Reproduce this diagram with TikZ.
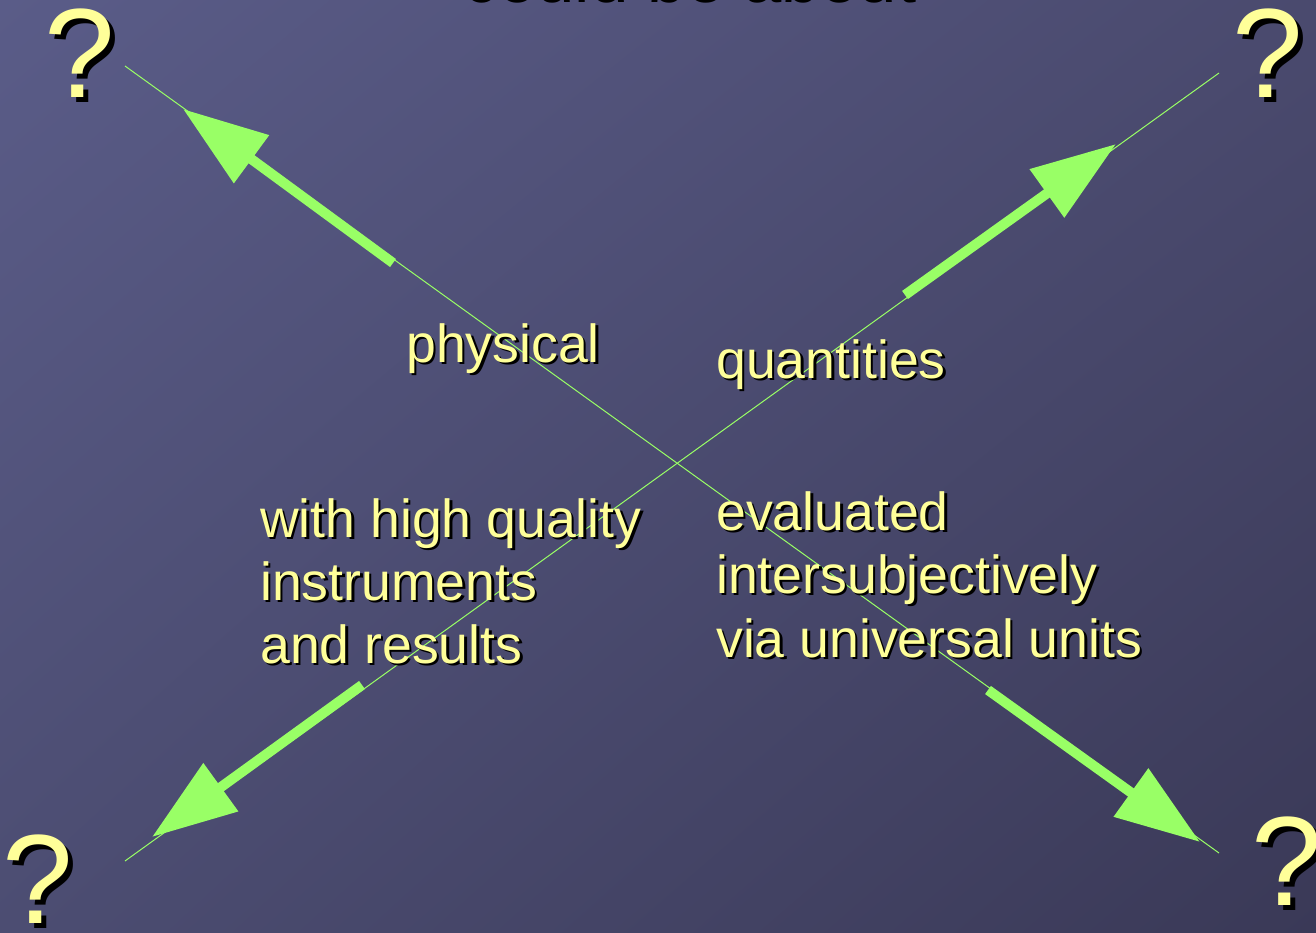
\documentclass[tikz,border=0pt]{standalone}
\usepackage{fontspec}
\setmainfont{Liberation Sans}
\usetikzlibrary{arrows.meta, calc, shadings}

\definecolor{qyellow}{HTML}{FFFF99}
\definecolor{qgreen}{HTML}{99FF66}
\definecolor{bgtl}{HTML}{5A5C88}
\definecolor{bgtr}{HTML}{4A4A6E}
\definecolor{bgbl}{HTML}{4C4D72}
\definecolor{bgbr}{HTML}{3A3957}

\tikzset{
  word/.style={font=\fontsize{53.6}{63}\selectfont, text=qyellow, anchor=base west, inner sep=0pt},
  qmark/.style={font=\fontsize{127}{127}\selectfont, text=qyellow, anchor=base west, inner sep=0pt},
  crossline/.style={qgreen, line width=1pt},
  bigarrow/.style={qgreen, line width=10pt, -{Triangle[length=85pt, width=57pt]}}
}

% text with a black shadow: style, name, position, offset, text
\newcommand{\shadowtext}[5]{%
  \node[#1, text=black] at ($(#3)+(#4,#4)$) {#5};
  \node[#1] (#2) at (#3) {#5};}

\begin{document}
\begin{tikzpicture}[x=1pt, y=-1pt]
    \useasboundingbox (0,0) rectangle (1316,933);
    \shade[upper left=bgtl, upper right=bgtr, lower left=bgbl, lower right=bgbr] (0,0) rectangle (1316,933);
    % title, cut off by the top edge
    \node[font=\fontsize{69}{69}\selectfont, anchor=base, inner sep=0pt] (title) at (690,3) {could be about};
    % the two crossing lines
    \coordinate (tl) at (125,66);
    \coordinate (br) at (1219,853);
    \coordinate (bl) at (125,861);
    \coordinate (tr) at (1219,73);
    \draw[crossline] (tl) -- (br);
    \draw[crossline] (bl) -- (tr);
    % thick arrows along them
    \coordinate (tlfrom) at (393,263);  \coordinate (tlto) at (183,109);
    \coordinate (trfrom) at (905,295);  \coordinate (trto) at (1116,144);
    \coordinate (blfrom) at (362,685);  \coordinate (blto) at (152,837);
    \coordinate (brfrom) at (988,690);  \coordinate (brto) at (1200,842);
    \draw[bigarrow] (tlfrom) -- (tlto);
    \draw[bigarrow] (trfrom) -- (trto);
    \draw[bigarrow] (blfrom) -- (blto);
    \draw[bigarrow] (brfrom) -- (brto);
    % question marks
    \shadowtext{qmark}{qtl}{44,98}{5}{?}
    \shadowtext{qmark}{qtr}{1232,98}{5}{?}
    \shadowtext{qmark}{qbl}{2,923}{5}{?}
    \shadowtext{qmark}{qbr}{1251,905}{5}{?}
    % labels
    \shadowtext{word}{physical}{406,362}{2.5}{physical}
    \shadowtext{word}{quantities}{716,378}{2.5}{quantities}
    \shadowtext{word}{with}{260,537}{2.5}{with high quality}
    \shadowtext{word}{instr}{260,600}{2.5}{instruments}
    \shadowtext{word}{results}{260,663}{2.5}{and results}
    \shadowtext{word}{evaluated}{716,530}{2.5}{evaluated}
    \shadowtext{word}{intersubj}{716,593}{2.5}{intersubjectively}
    \shadowtext{word}{units}{716,657}{2.5}{via universal units}
\end{tikzpicture}
\end{document}
